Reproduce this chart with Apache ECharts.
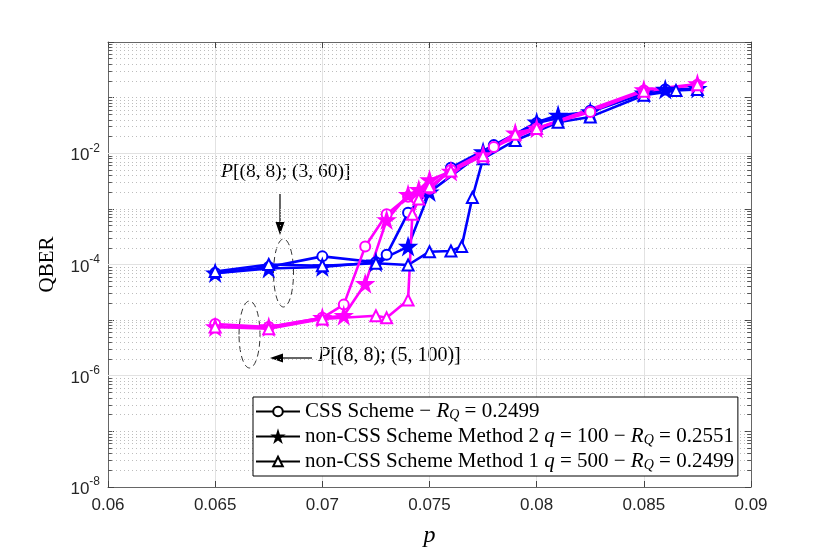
<!DOCTYPE html>
<html lang="en">
<head>
    <meta charset="UTF-8" />
    <title>QBER vs p</title>
    <script src="https://cdn.jsdelivr.net/npm/echarts@6/dist/echarts.min.js"></script>
    <style>
        * { margin: 0; }
        #chart { width: 830px; height: 554px; background: #fff; }
    </style>
</head>
<body>
    <div id="chart"></div>
    <script>
        // P[(8,8);(3,60)] - blue
        const cssBlueX = [0.065, 0.0675, 0.07, 0.0725, 0.073, 0.074, 0.076, 0.078, 0.08, 0.0825, 0.085, 0.086, 0.0875];
        const cssBlueY = [7e-5, 9e-5, 1.4e-4, 1.1e-4, 1.5e-4, 8.5e-4, 5.5e-3, 0.014, 0.035, 0.058, 0.12, 0.14, 0.14];
        const m2BlueX = [0.065, 0.0675, 0.07, 0.0725, 0.074, 0.075, 0.0775, 0.08, 0.081, 0.0825, 0.085, 0.086, 0.0875];
        const m2BlueY = [7e-5, 8.5e-5, 9e-5, 1.1e-4, 2.1e-4, 2e-3, 0.0105, 0.036, 0.048, 0.055, 0.12, 0.14, 0.145];
        const m1BlueX = [0.065, 0.0675, 0.07, 0.0725, 0.074, 0.075, 0.076, 0.0765, 0.077, 0.0775, 0.079, 0.081, 0.0825, 0.085, 0.0865, 0.0875];
        const m1BlueY = [7.5e-5, 1e-4, 9.5e-5, 1.05e-4, 9.8e-5, 1.7e-4, 1.75e-4, 2.1e-4, 1.6e-3, 8e-3, 0.017, 0.036, 0.045, 0.11, 0.135, 0.14];

        // P[(8,8);(5,100)] - magenta
        const cssMagX = [0.065, 0.0675, 0.07, 0.071, 0.072, 0.073, 0.074, 0.075, 0.076, 0.078, 0.08, 0.0825, 0.085, 0.0875];
        const cssMagY = [8.5e-6, 7.5e-6, 1.1e-5, 1.9e-5, 2.1e-4, 8e-4, 1.65e-3, 2.3e-3, 5e-3, 0.013, 0.028, 0.055, 0.135, 0.17];
        const m2MagX = [0.065, 0.0675, 0.07, 0.071, 0.072, 0.073, 0.074, 0.0745, 0.075, 0.076, 0.0775, 0.079, 0.08, 0.085, 0.0875];
        const m2MagY = [7.5e-6, 7.5e-6, 1.1e-5, 1.2e-5, 4.5e-5, 6.3e-4, 1.8e-3, 2.2e-3, 3.3e-3, 4.7e-3, 9.3e-3, 0.023, 0.028, 0.137, 0.176];
        const m1MagX = [0.065, 0.0675, 0.07, 0.0725, 0.073, 0.074, 0.0742, 0.0745, 0.075, 0.076, 0.0775, 0.079, 0.08, 0.085, 0.0875];
        const m1MagY = [7.5e-6, 7e-6, 1.05e-5, 1.2e-5, 1.1e-5, 2.3e-5, 8e-4, 1.5e-3, 2.5e-3, 4.8e-3, 9e-3, 0.022, 0.028, 0.13, 0.17];

        const legendNames = ["css", "m2", "m1"];
        const legendTexts = {
            css: "{t|CSS Scheme }{t|\u2212 }{i|R}{s|Q}{t| = 0.2499}",
            m2: "{t|non-CSS Scheme Method 2 }{i|q}{t| = 100 \u2212 }{i|R}{s|Q}{t| = 0.2551}",
            m1: "{t|non-CSS Scheme Method 1 }{i|q}{t| = 500 \u2212 }{i|R}{s|Q}{t| = 0.2499}",
        };

        const X_MIN = 0.06, X_MAX = 0.09;
        const BLUE = "#0000ff";
        const MAGENTA = "#ff00ff";
        const STAR = "path://M50,0 L61,35 L98,35 L68,57 L79,91 L50,70 L21,91 L32,57 L2,35 L39,35 Z";
        const SERIF = "'Liberation Serif', 'DejaVu Serif', serif";
        const SANS = "'Liberation Sans', Arial, sans-serif";

        // grid lines on the log axis: dotted for unlabelled decades and 2..9, solid for labelled ones
        const minorLines = [];
        const majorLines = [1e-6, 1e-4, 1e-2];
        for (let e = -8; e < 0; e++) {
            if (e % 2 !== 0) minorLines.push(Math.pow(10, e));
            for (let m = 2; m <= 9; m++) minorLines.push(m * Math.pow(10, e));
        }
        const tickLen = 0.00018;

        function mkSeries(name, xs, ys, color, symbol, size) {
            return {
                name: name,
                type: "line",
                data: xs.map((x, i) => [x, ys[i]]),
                symbol: symbol,
                symbolSize: size,
                lineStyle: { color: color, width: 2.6 },
                itemStyle: { color: color, borderColor: color, borderWidth: 2.2 },
                z: 3,
            };
        }

        function legendSeries(name, symbol, size) {
            return {
                name: name,
                type: "line",
                data: [],
                symbol: symbol,
                symbolSize: size,
                lineStyle: { color: "#000", width: 2.6 },
                itemStyle: { color: "#000", borderColor: "#000", borderWidth: 2 },
            };
        }

        const myChart = echarts.init(document.getElementById("chart"));
        const option = {
            animation: false,
            backgroundColor: "#fff",
            grid: { left: 108, right: 79, top: 42, bottom: 67 },
            xAxis: [
                {
                    type: "value",
                    min: X_MIN,
                    max: X_MAX,
                    interval: 0.005,
                    name: "p",
                    nameLocation: "middle",
                    nameGap: 37,
                    nameMoveOverlap: false,
                    nameTextStyle: { fontFamily: SERIF, fontStyle: "italic", fontSize: 24, color: "#000" },
                    axisLine: { onZero: false, lineStyle: { color: "#666", width: 1 } },
                    axisTick: { inside: true, length: 6, lineStyle: { color: "#444" } },
                    axisLabel: {
                        fontFamily: SANS,
                        fontSize: 17,
                        color: "#262626",
                        margin: 10,
                        formatter: (v) => String(+v.toFixed(3)),
                    },
                    splitLine: { show: true, lineStyle: { color: "#e2e2e2", width: 1 } },
                },
                {
                    type: "value",
                    position: "top",
                    min: X_MIN,
                    max: X_MAX,
                    interval: 0.005,
                    axisLine: { onZero: false, lineStyle: { color: "#666", width: 1 } },
                    axisTick: { inside: true, length: 6, lineStyle: { color: "#444" } },
                    axisLabel: { show: false },
                    splitLine: { show: false },
                },
            ],
            yAxis: [
                {
                    type: "log",
                    min: 1e-8,
                    max: 1,
                    splitNumber: 8,
                    name: "QBER",
                    nameLocation: "middle",
                    nameGap: 50,
                    nameMoveOverlap: false,
                    nameTextStyle: { fontFamily: SERIF, fontSize: 21, color: "#000" },
                    axisLine: { onZero: false, lineStyle: { color: "#666", width: 1 } },
                    axisTick: { inside: true, length: 6, lineStyle: { color: "#444" } },
                    splitLine: { show: false },
                    axisLabel: {
                        margin: 8,
                        color: "#262626",
                        formatter: (v) => {
                            const e = Math.round(Math.log10(v));
                            if (e === 0 || e % 2 !== 0) return "";
                            return "{b|10}{e|" + e + "}";
                        },
                        rich: {
                            b: { fontFamily: SANS, fontSize: 17, color: "#262626", lineHeight: 22, verticalAlign: "bottom" },
                            e: { fontFamily: SANS, fontSize: 12, color: "#262626", lineHeight: 22, verticalAlign: "top" },
                        },
                    },
                },
                {
                    type: "log",
                    position: "right",
                    min: 1e-8,
                    max: 1,
                    splitNumber: 8,
                    axisLine: { onZero: false, lineStyle: { color: "#666", width: 1 } },
                    axisTick: { inside: true, length: 6, lineStyle: { color: "#444" } },
                    axisLabel: { show: false },
                    splitLine: { show: false },
                },
            ],
            legend: {
                data: legendNames,
                orient: "vertical",
                left: 253,
                top: 397,
                padding: [4, 4, 4, 2],
                itemGap: 4,
                itemWidth: 44,
                itemHeight: 12,
                backgroundColor: "#fff",
                borderColor: "#000",
                borderWidth: 1,
                borderRadius: 0,
                formatter: (name) => legendTexts[name],
                textStyle: {
                    rich: {
                        t: { fontFamily: SERIF, fontSize: 21, color: "#000", lineHeight: 21 },
                        i: { fontFamily: SERIF, fontSize: 21, fontStyle: "italic", color: "#000", lineHeight: 21 },
                        s: { fontFamily: SERIF, fontSize: 14, fontStyle: "italic", color: "#000", lineHeight: 15, verticalAlign: "bottom" },
                    },
                },
            },
            series: [
                {
                    name: "minorGrid",
                    type: "lines",
                    coordinateSystem: "cartesian2d",
                    silent: true,
                    z: 1,
                    lineStyle: { type: [1, 3], color: "#bdbdbd", width: 1, opacity: 1 },
                    data: minorLines.map((v) => ({ coords: [[X_MIN, v], [X_MAX, v]] })),
                },
                {
                    name: "majorGrid",
                    type: "lines",
                    coordinateSystem: "cartesian2d",
                    silent: true,
                    z: 1,
                    lineStyle: { type: "solid", color: "#e2e2e2", width: 1, opacity: 1 },
                    data: majorLines.map((v) => ({ coords: [[X_MIN, v], [X_MAX, v]] })),
                },
                {
                    name: "minorTicks",
                    type: "lines",
                    coordinateSystem: "cartesian2d",
                    silent: true,
                    z: 2,
                    lineStyle: { type: "solid", color: "#555", width: 1, opacity: 1 },
                    data: minorLines.map((v) => ({ coords: [[X_MIN, v], [X_MIN + tickLen, v]] }))
                        .concat(minorLines.map((v) => ({ coords: [[X_MAX - tickLen, v], [X_MAX, v]] }))),
                },
                mkSeries("cssBlue", cssBlueX, cssBlueY, BLUE, "emptyCircle", 10),
                mkSeries("m2Blue", m2BlueX, m2BlueY, BLUE, STAR, 14),
                mkSeries("m1Blue", m1BlueX, m1BlueY, BLUE, "emptyTriangle", 11),
                mkSeries("cssMag", cssMagX, cssMagY, MAGENTA, "emptyCircle", 10),
                mkSeries("m2Mag", m2MagX, m2MagY, MAGENTA, STAR, 14),
                mkSeries("m1Mag", m1MagX, m1MagY, MAGENTA, "emptyTriangle", 11),
                legendSeries("css", "emptyCircle", 10),
                legendSeries("m2", STAR, 14),
                legendSeries("m1", "emptyTriangle", 11),
            ],
            graphic: [
                {
                    type: "text",
                    left: 221,
                    top: 162,
                    style: {
                        text: "{i|P}{n|[(8, 8); (3, 60)]}",
                        rich: {
                            i: { fontFamily: SERIF, fontSize: 19.5, fontStyle: "italic", fill: "#000" },
                            n: { fontFamily: SERIF, fontSize: 19.5, fill: "#000" },
                        },
                    },
                },
                { type: "line", shape: { x1: 280, y1: 194, x2: 280, y2: 226 }, style: { stroke: "#000", lineWidth: 1.2 } },
                { type: "polygon", shape: { points: [[275.5, 222], [284.5, 222], [280, 235]] }, style: { fill: "#000" } },
                {
                    type: "ellipse",
                    shape: { cx: 283.5, cy: 273, rx: 10, ry: 34 },
                    style: { fill: "none", stroke: "#000", lineWidth: 0.8, lineDash: [6, 4] },
                },
                {
                    type: "ellipse",
                    shape: { cx: 249.5, cy: 334.5, rx: 10.5, ry: 33.5 },
                    style: { fill: "none", stroke: "#000", lineWidth: 0.8, lineDash: [6, 4] },
                },
                { type: "line", shape: { x1: 312, y1: 358, x2: 280, y2: 358 }, style: { stroke: "#000", lineWidth: 1.2 } },
                { type: "polygon", shape: { points: [[283, 353.5], [283, 362.5], [270, 358]] }, style: { fill: "#000" } },
                {
                    type: "text",
                    left: 318,
                    top: 346,
                    style: {
                        text: "{i|P}{n|[(8, 8); (5, 100)]}",
                        rich: {
                            i: { fontFamily: SERIF, fontSize: 20, fontStyle: "italic", fill: "#000" },
                            n: { fontFamily: SERIF, fontSize: 20, fill: "#000" },
                        },
                    },
                },
            ],
        };

        myChart.setOption(option);
    </script>
</body>
</html>
